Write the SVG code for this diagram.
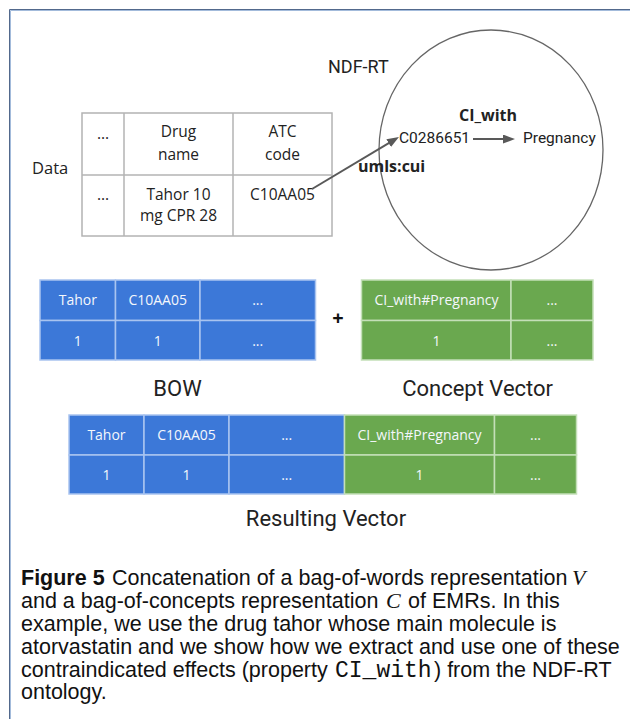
<svg xmlns="http://www.w3.org/2000/svg" width="630" height="719" viewBox="0 0 630 719">
<defs>
<style>
.os{font-family:"Open Sans","Liberation Sans",sans-serif;}
.rb{font-family:Roboto,"Liberation Sans",sans-serif;}
.tbl{fill:#222;font-size:15.5px;text-anchor:middle;}
.grid{fill:none;stroke:#b3b3b3;stroke-width:1.5;}
.lbl{fill:#222;}
.big{font-size:22px;text-anchor:middle;fill:#222;}
.blue{fill:#3c78d8;stroke:#a9c4f0;stroke-width:1.5;}
.green{fill:#6aa84f;stroke:#c4dfb8;stroke-width:1.5;}
.cell{fill:#f4f7fc;font-size:14px;text-anchor:middle;}
.cap{font-family:"Liberation Sans",Arial,sans-serif;font-size:21.5px;fill:#111;}
.math{font-family:"Liberation Serif",serif;font-style:italic;font-size:22px;fill:#111;}
.conn{stroke:#595959;stroke-width:2;fill:none;}
</style>
<marker id="ah" markerUnits="userSpaceOnUse" markerWidth="13" markerHeight="10" refX="4" refY="4.5" orient="auto">
<path d="M0,0 L12,4.5 L0,9 z" fill="#595959"/>
</marker>
</defs>
<rect x="0" y="0" width="630" height="719" fill="#fff"/>
<g id="frame">
<path d="M9.5,719 V9.5 H630" fill="none" stroke="#52698c" stroke-width="1"/>
<path d="M10.5,719 V10.5 H630" fill="none" stroke="#a3bbdb" stroke-width="1"/>
</g>

<g id="data-table">
<text class="os lbl" x="32" y="174" font-size="16.5">Data</text>
<rect class="grid" x="82" y="113" width="250" height="123"/>
<line class="grid" x1="124" y1="113" x2="124" y2="236"/>
<line class="grid" x1="233" y1="113" x2="233" y2="236"/>
<line class="grid" x1="82" y1="175" x2="332" y2="175"/>
<text class="os tbl" x="103" y="139">...</text>
<text class="os tbl" x="178.5" y="137">Drug</text>
<text class="os tbl" x="178.5" y="160">name</text>
<text class="os tbl" x="282.5" y="137">ATC</text>
<text class="os tbl" x="282.5" y="160">code</text>
<text class="os tbl" x="103" y="200">...</text>
<text class="os tbl" x="178.5" y="200">Tahor 10</text>
<text class="os tbl" x="178.5" y="221">mg CPR 28</text>
<text class="os tbl" x="282.5" y="200">C10AA05</text>
</g>

<g id="ndf-rt">
<ellipse cx="491" cy="150" rx="112" ry="120" fill="none" stroke="#666" stroke-width="1.3"/>
<text class="rb lbl" x="328" y="73" font-size="18">NDF-RT</text>
<text class="os lbl" x="488" y="121" font-size="16" font-weight="700" text-anchor="middle">CI_with</text>
<text class="rb lbl" x="399" y="143" font-size="15.5">C0286651</text>
<text class="rb lbl" x="523" y="143" font-size="15.5">Pregnancy</text>
<text class="os lbl" x="358" y="172" font-size="16" font-weight="700">umls:cui</text>
</g>

<g id="connectors">
<line class="conn" x1="312" y1="189" x2="392.1" y2="141.1" marker-end="url(#ah)"/>
<line class="conn" x1="473" y1="139" x2="507" y2="139" marker-end="url(#ah)"/>
</g>

<g id="bow">
<rect class="blue" x="40" y="280" width="75.5" height="40.5"/>
<rect class="blue" x="115.5" y="280" width="84.5" height="40.5"/>
<rect class="blue" x="200" y="280" width="115.5" height="40.5"/>
<rect class="blue" x="40" y="320.5" width="75.5" height="39.5"/>
<rect class="blue" x="115.5" y="320.5" width="84.5" height="39.5"/>
<rect class="blue" x="200" y="320.5" width="115.5" height="39.5"/>
<text class="os cell" x="77.8" y="305">Tahor</text>
<text class="os cell" x="157.7" y="305">C10AA05</text>
<text class="os cell" x="257.7" y="305">...</text>
<text class="os cell" x="77.8" y="345.5">1</text>
<text class="os cell" x="157.7" y="345.5">1</text>
<text class="os cell" x="257.7" y="345.5">...</text>
<text class="rb big" x="177.5" y="396">BOW</text>
</g>

<g id="plus">
<text class="os" x="338" y="325" font-size="20" font-weight="700" fill="#111" text-anchor="middle">+</text>
</g>

<g id="concept-vector">
<rect class="green" x="361.5" y="280" width="149.5" height="40.5"/>
<rect class="green" x="511" y="280" width="82" height="40.5"/>
<rect class="green" x="361.5" y="320.5" width="149.5" height="39.5"/>
<rect class="green" x="511" y="320.5" width="82" height="39.5"/>
<text class="os cell" x="436.5" y="305">CI_with#Pregnancy</text>
<text class="os cell" x="552" y="305">...</text>
<text class="os cell" x="436.5" y="345.5">1</text>
<text class="os cell" x="552" y="345.5">...</text>
<text class="rb big" x="477.6" y="396">Concept Vector</text>
</g>

<g id="resulting-vector">
<rect class="blue" x="69" y="415" width="75" height="40"/>
<rect class="blue" x="144" y="415" width="85" height="40"/>
<rect class="blue" x="229" y="415" width="115.5" height="40"/>
<rect class="blue" x="69" y="455" width="75" height="39"/>
<rect class="blue" x="144" y="455" width="85" height="39"/>
<rect class="blue" x="229" y="455" width="115.5" height="39"/>
<rect class="green" x="344.5" y="415" width="150" height="40"/>
<rect class="green" x="494.5" y="415" width="82" height="40"/>
<rect class="green" x="344.5" y="455" width="150" height="39"/>
<rect class="green" x="494.5" y="455" width="82" height="39"/>
<text class="os cell" x="106.5" y="440">Tahor</text>
<text class="os cell" x="186.5" y="440">C10AA05</text>
<text class="os cell" x="286.7" y="440">...</text>
<text class="os cell" x="419.5" y="440">CI_with#Pregnancy</text>
<text class="os cell" x="535.5" y="440">...</text>
<text class="os cell" x="106.5" y="479.5">1</text>
<text class="os cell" x="186.5" y="479.5">1</text>
<text class="os cell" x="286.7" y="479.5">...</text>
<text class="os cell" x="419.5" y="479.5">1</text>
<text class="os cell" x="535.5" y="479.5">...</text>
<text class="rb big" x="326" y="526">Resulting Vector</text>
</g>

<g id="caption">
<text class="cap" x="21" y="585" font-weight="700">Figure 5</text>
<text class="cap" x="112" y="585">Concatenation of a bag-of-words representation</text>
<text class="math" x="572" y="585">V</text>
<text class="cap" x="21" y="608">and a bag-of-concepts representation</text>
<text class="math" x="386" y="608">C</text>
<text class="cap" x="408" y="608">of EMRs. In this</text>
<text class="cap" x="21" y="631">example, we use the drug tahor whose main molecule is</text>
<text class="cap" x="21" y="654">atorvastatin and we show how we extract and use one of these</text>
<text class="cap" x="21" y="677">contraindicated effects (property</text>
<text x="335" y="677" font-family="'Liberation Mono',monospace" font-size="23" fill="#111">CI_with</text>
<text class="cap" x="434" y="677">) from the NDF-RT</text>
<text class="cap" x="21" y="699">ontology.</text>
</g>
</svg>
